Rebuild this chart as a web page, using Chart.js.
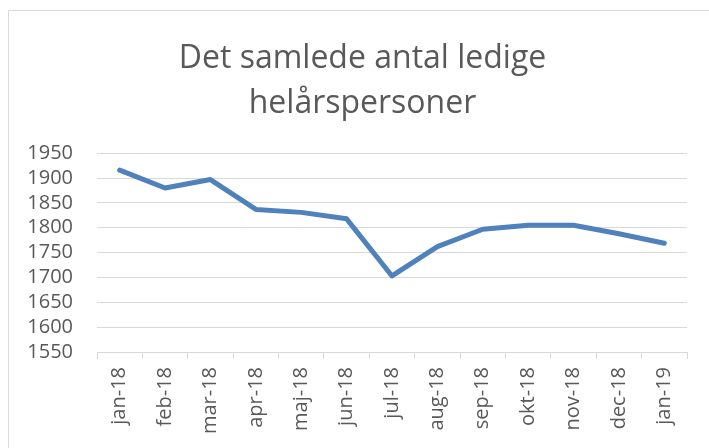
<!DOCTYPE html>
<html>
<head>
<meta charset="utf-8">
<script src="https://cdn.jsdelivr.net/npm/chart.js@4/dist/chart.umd.min.js"></script>
<style>
  html, body { margin: 0; padding: 0; background: #fff; }
  #wrap { position: relative; width: 709px; height: 448px; }
  #frame { position: absolute; left: 8px; top: 10px; width: 720px; height: 460px; border: 1px solid #d9d9d9; box-sizing: border-box; pointer-events: none; }
  canvas { position: absolute; left: 0; top: 0; }
</style>
</head>
<body>
<div id="wrap">
  <canvas id="c" width="709" height="448"></canvas>
  <div id="frame"></div>
</div>
<script>
const categories = ["jan-18","feb-18","mar-18","apr-18","maj-18","jun-18","jul-18","aug-18","sep-18","okt-18","nov-18","dec-18","jan-19"];
const ledige = [1916, 1880, 1897, 1837, 1831, 1818, 1703, 1762, 1797, 1805, 1805, 1788, 1769];
const titleLines = ["Det samlede antal ledige", "helårspersoner"];
const yMin = 1550, yMax = 1950, yStep = 50;

const FONT = "'Open Sans', Lato, 'Noto Sans', sans-serif";
const TXT = "#595959";
const GRID = "#d9d9d9";

// let y tick labels extend into the left padding instead of being clipped
const widenYLabelArea = {
  id: 'widenYLabelArea',
  afterLayout(chart) {
    const y = chart.scales.y;
    y.left = 0;
    y._labelItems = null;
  }
};

new Chart(document.getElementById('c'), {
  type: 'line',
  data: {
    labels: categories,
    datasets: [{
      data: ledige,
      borderColor: '#4f81bd',
      borderWidth: 5,
      pointRadius: 0,
      tension: 0,
      fill: false,
      borderCapStyle: 'round',
      borderJoinStyle: 'round'
    }]
  },
  plugins: [widenYLabelArea],
  options: {
    responsive: false,
    animation: false,
    layout: { padding: { left: 38, right: 22, top: 0, bottom: 0 } },
    plugins: {
      legend: { display: false },
      tooltip: { enabled: false },
      title: {
        display: true,
        text: titleLines,
        color: TXT,
        font: { family: FONT, size: 32, weight: 'normal', lineHeight: 1.41 },
        padding: { top: 36, bottom: 27 }
      }
    },
    scales: {
      x: {
        offset: true,
        grid: { offset: true, drawOnChartArea: false, drawTicks: true, tickLength: 7, color: GRID, lineWidth: 1 },
        border: { display: true, color: GRID, width: 1 },
        ticks: { color: TXT, font: { family: FONT, size: 20 }, maxRotation: 90, minRotation: 90, padding: 8, autoSkip: false },
        afterFit: (s) => { s.height = 96; }
      },
      y: {
        min: yMin, max: yMax,
        ticks: { stepSize: yStep, color: TXT, font: { family: FONT, size: 20 }, padding: 24, autoSkip: false,
                 callback: (v) => String(v) },
        grid: { color: GRID, lineWidth: 1, drawTicks: false },
        border: { display: false },
        afterFit: (s) => { s.width = 59; }
      }
    }
  }
});
</script>
</body>
</html>
